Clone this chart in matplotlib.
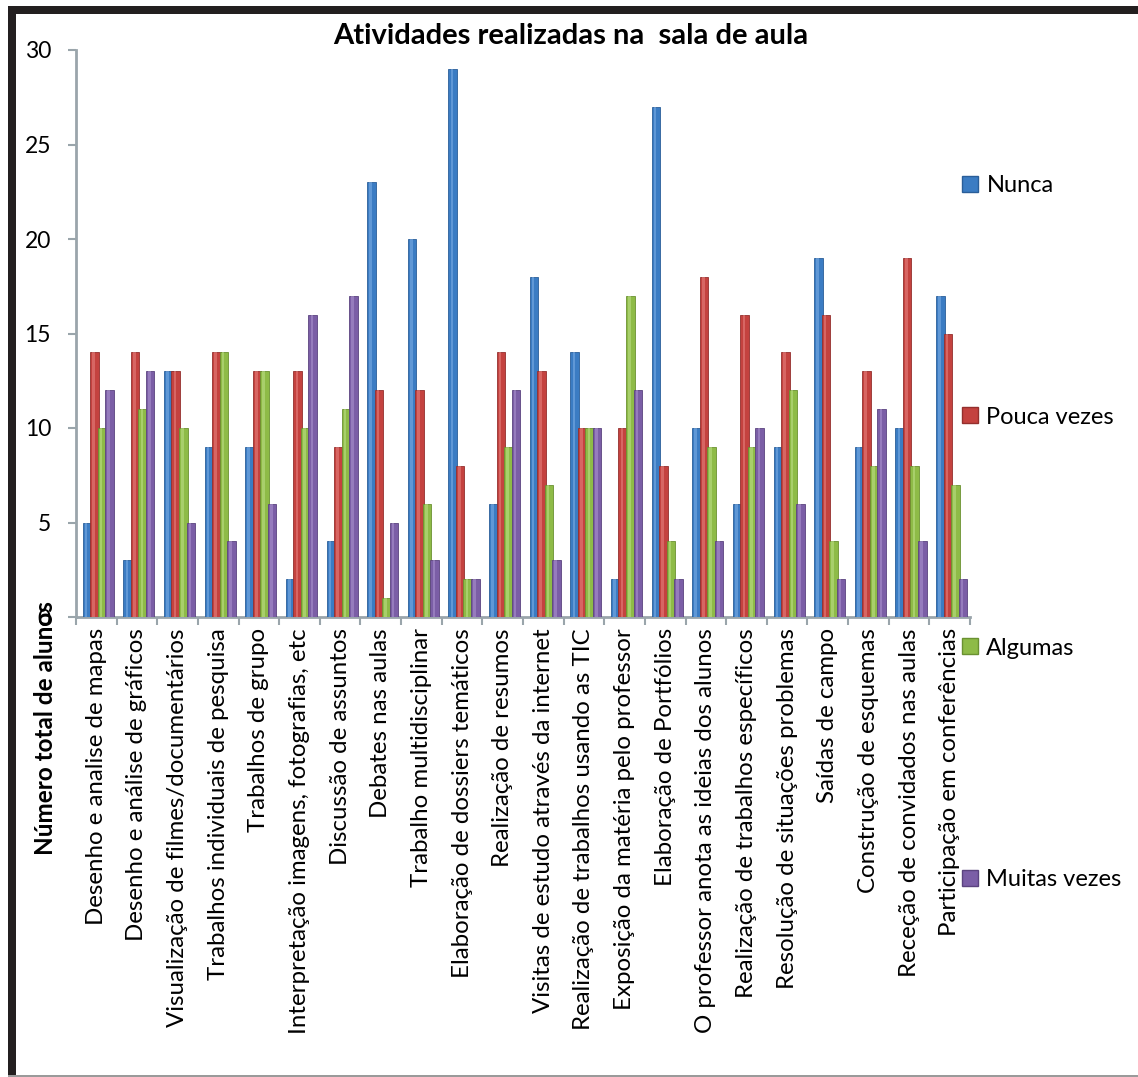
import numpy as np
import matplotlib
matplotlib.use('Agg')
from matplotlib import pyplot as plt
from matplotlib.patches import Rectangle
from matplotlib.lines import Line2D

plt.rcParams['font.family'] = ['Lato', 'DejaVu Sans']

atividades = [
    'Desenho e analise de mapas',
    'Desenho e análise de gráficos',
    'Visualização de filmes/documentários',
    'Trabalhos individuais de pesquisa',
    'Trabalhos de grupo',
    'Interpretação imagens, fotografias, etc',
    'Discussão de assuntos',
    'Debates nas aulas',
    'Trabalho multidisciplinar',
    'Elaboração de dossiers temáticos',
    'Realização de resumos',
    'Visitas de estudo através da internet',
    'Realização de trabalhos usando as TIC',
    'Exposição da matéria pelo professor',
    'Elaboração de Portfólios',
    'O professor anota as ideias dos alunos',
    'Realização de trabalhos específicos',
    'Resolução de situações problemas',
    'Saídas de campo',
    'Construção de esquemas',
    'Receção de convidados nas aulas',
    'Participação em conferências',
]

nunca = [5, 3, 13, 9, 9, 2, 4, 23, 20, 29, 6, 18, 14, 2, 27, 10, 6, 9, 19, 9, 10, 17]
pouca = [14, 14, 13, 14, 13, 13, 9, 12, 12, 8, 14, 13, 10, 10, 8, 18, 16, 14, 16, 13, 19, 15]
algumas = [10, 11, 10, 14, 13, 10, 11, 1, 6, 2, 9, 7, 10, 17, 4, 9, 9, 12, 4, 8, 8, 7]
muitas = [12, 13, 5, 4, 6, 16, 17, 5, 3, 2, 12, 3, 10, 12, 2, 4, 10, 6, 2, 11, 4, 2]

series = ['Nunca', 'Pouca vezes', 'Algumas', 'Muitas vezes']
cores = ['#3b7cc3', '#c4423f', '#8ebb47', '#7b5ea6']
claras = ['#7fb0e6', '#e88481', '#bfe08a', '#ae96d0']
escuras = ['#2a5e99', '#942f2d', '#6a9131', '#5b437f']

W, H = 1138, 1077
fig = plt.figure(figsize=(W / 100, H / 100), dpi=100)
fig.patch.set_facecolor('white')
ax = fig.add_axes([76 / W, 1 - 617 / H, (970 - 76) / W, (617 - 50) / H])

x = np.arange(len(atividades))
dados = [nunca, pouca, algumas, muitas]
larg = 0.21
for k, vals in enumerate(dados):
    pos = x + 0.27 + k * 0.185
    ax.bar(pos, vals, width=larg, color=cores[k], edgecolor=escuras[k], linewidth=0.6, zorder=3 + k)
    ax.bar(pos - 0.02, vals, width=larg * 0.3, color=claras[k], alpha=0.55, linewidth=0, zorder=3 + k)

ax.set_xlim(0, len(atividades))
ax.set_ylim(0, 30)
ax.set_yticks(range(0, 31, 5))
ax.tick_params(axis='y', direction='out', length=6, width=1.5, color='#9aa5ab', pad=12, labelsize=16.5)

ax.set_xticks(np.arange(len(atividades) + 1))
ax.set_xticklabels([])
ax.tick_params(axis='x', which='major', direction='out', length=6, width=1.5, color='#9aa5ab')
ax.set_xticks(x + 0.5, minor=True)
ax.set_xticklabels(atividades, minor=True, rotation=90, fontsize=17.3, va='top', ha='center')
ax.tick_params(axis='x', which='minor', length=0, pad=8)

for s in ['top', 'right']:
    ax.spines[s].set_visible(False)
for s in ['left', 'bottom']:
    ax.spines[s].set_color('#9aa5ab')
    ax.spines[s].set_linewidth(2)
ax.set_facecolor('none')

fig.text(571 / W, 1 - 36 / H, 'Atividades realizadas na  sala de aula', ha='center', va='center',
         fontsize=21, fontweight='bold')
fig.text(46 / W, 1 - 728 / H, 'Número total de alunos', rotation=90, ha='center', va='center',
         fontsize=17.5, fontweight='bold')

handles = [Line2D([0], [0], marker='s', linestyle='none', markersize=11,
                  markerfacecolor=cores[k], markeredgecolor=escuras[k]) for k in range(4)]
ax.legend(handles, series, loc='upper left', bbox_to_anchor=(951 / W, 1 - 166 / H),
          bbox_transform=fig.transFigure, frameon=False, fontsize=17, labelspacing=8.9,
          handlelength=0.8, handletextpad=0.3, borderaxespad=0)

# moldura
fig.add_artist(Rectangle((8 / W, 1 - 14 / H), 1, 8 / H, transform=fig.transFigure,
                         color='#231f20', lw=0))
fig.add_artist(Rectangle((8 / W, 0), 8 / W, 1 - 6 / H, transform=fig.transFigure,
                         color='#231f20', lw=0))
fig.add_artist(Rectangle((8 / W, 0), 1, 2 / H, transform=fig.transFigure,
                         color='#9a9a9a', lw=0))

fig.savefig('out.png', dpi=100)
